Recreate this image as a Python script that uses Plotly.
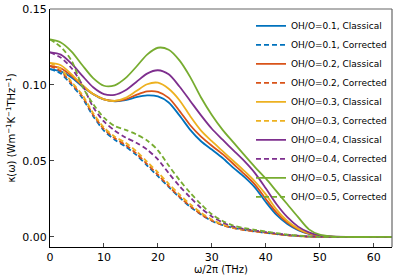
import plotly.graph_objects as go

freq = [0, 2, 4, 6, 8, 10, 12, 14, 16, 18, 20, 22, 24, 26, 28, 30, 32, 34, 36, 38,
        40, 42, 44, 46, 48, 50, 52, 55, 60, 63.5]

cl_01 = [0.1105, 0.109, 0.105, 0.099, 0.094, 0.0905, 0.0893, 0.0900, 0.0920, 0.0932,
         0.0925, 0.0885, 0.0800, 0.0705, 0.0630, 0.0575, 0.0520, 0.0455, 0.0395, 0.0325,
         0.0230, 0.0145, 0.0085, 0.0045, 0.0020, 0.0007, 0.0002, 0.0, 0.0, 0.0]
co_01 = [0.1105, 0.1075, 0.100, 0.0915, 0.0795, 0.0700, 0.0640, 0.0595, 0.0540, 0.0470,
         0.0400, 0.0330, 0.0260, 0.0198, 0.0148, 0.0105, 0.0078, 0.0060, 0.0046, 0.0036,
         0.0027, 0.0019, 0.0011, 0.0006, 0.0002, 0.0001, 0.0, 0.0, 0.0, 0.0]
cl_02 = [0.1125, 0.111, 0.106, 0.0995, 0.094, 0.0905, 0.0895, 0.0905, 0.0935, 0.0958,
         0.0955, 0.0915, 0.0830, 0.0735, 0.0660, 0.0600, 0.0545, 0.0480, 0.0415, 0.0345,
         0.0250, 0.0160, 0.0095, 0.0050, 0.0022, 0.0008, 0.0002, 0.0, 0.0, 0.0]
co_02 = [0.1125, 0.109, 0.101, 0.0925, 0.0805, 0.0710, 0.0650, 0.0605, 0.0550, 0.0480,
         0.0410, 0.0335, 0.0265, 0.0203, 0.0150, 0.0108, 0.0078, 0.0058, 0.0045, 0.0036,
         0.0027, 0.0019, 0.0011, 0.0006, 0.0002, 0.0001, 0.0, 0.0, 0.0, 0.0]
cl_03 = [0.1145, 0.113, 0.107, 0.100, 0.094, 0.0905, 0.0895, 0.0915, 0.0960, 0.1005,
         0.1015, 0.0975, 0.0900, 0.0795, 0.0700, 0.0630, 0.0565, 0.0500, 0.0435, 0.0365,
         0.0280, 0.0180, 0.0105, 0.0055, 0.0025, 0.0009, 0.0002, 0.0, 0.0, 0.0]
co_03 = [0.1145, 0.1105, 0.102, 0.0935, 0.0815, 0.0720, 0.0660, 0.0620, 0.0565, 0.0495,
         0.0425, 0.0350, 0.0280, 0.0215, 0.0160, 0.0115, 0.0083, 0.0062, 0.0048, 0.0038,
         0.0029, 0.0020, 0.0012, 0.0006, 0.0003, 0.0001, 0.0, 0.0, 0.0, 0.0]
cl_04 = [0.1215, 0.120, 0.114, 0.106, 0.0985, 0.0940, 0.0935, 0.0965, 0.1020, 0.1075,
         0.1097, 0.1070, 0.0990, 0.0895, 0.0800, 0.0712, 0.0640, 0.0570, 0.0500, 0.0420,
         0.0320, 0.0215, 0.0130, 0.0068, 0.0030, 0.0010, 0.0003, 0.0, 0.0, 0.0]
co_04 = [0.1215, 0.118, 0.111, 0.100, 0.0855, 0.0760, 0.0700, 0.0655, 0.0620, 0.0575,
         0.0510, 0.0420, 0.0335, 0.0260, 0.0190, 0.0135, 0.0095, 0.0068, 0.0052, 0.0042,
         0.0032, 0.0022, 0.0014, 0.0008, 0.0003, 0.0001, 0.0, 0.0, 0.0, 0.0]
cl_05 = [0.1300, 0.128, 0.122, 0.113, 0.1045, 0.0995, 0.0998, 0.1045, 0.1120, 0.1200,
         0.1245, 0.1232, 0.1162, 0.1052, 0.0918, 0.0803, 0.0705, 0.0622, 0.0540, 0.0460,
         0.0385, 0.0300, 0.0215, 0.0130, 0.0050, 0.0015, 0.0004, 0.0, 0.0, 0.0]
co_05 = [0.1300, 0.125, 0.116, 0.099, 0.0875, 0.0785, 0.0730, 0.0705, 0.0675, 0.0635,
         0.0570, 0.0470, 0.0375, 0.0290, 0.0215, 0.0150, 0.0105, 0.0075, 0.0058, 0.0047,
         0.0036, 0.0025, 0.0016, 0.0009, 0.0004, 0.0001, 0.0, 0.0, 0.0, 0.0]

ratios = ["0.1", "0.2", "0.3", "0.4", "0.5"]
classical = [cl_01, cl_02, cl_03, cl_04, cl_05]
corrected = [co_01, co_02, co_03, co_04, co_05]
colors = ["#0072BD", "#D95319", "#EDB120", "#7E2F8E", "#77AC30"]

fig = go.Figure()
for r, cl, co, c in zip(ratios, classical, corrected, colors):
    fig.add_trace(go.Scatter(x=freq, y=cl, mode="lines", name=f"OH/O={r}, Classical",
                             line=dict(color=c, width=1.8, shape="spline", smoothing=0.8)))
    fig.add_trace(go.Scatter(x=freq, y=co, mode="lines", name=f"OH/O={r}, Corrected",
                             line=dict(color=c, width=1.8, dash="5px,3px",
                                       shape="spline", smoothing=0.8)))

font = "DejaVu Sans, Liberation Sans, sans-serif"
fig.update_layout(
    width=396, height=280,
    margin=dict(l=50, r=4, t=9, b=33),
    paper_bgcolor="white", plot_bgcolor="white",
    font=dict(family=font, size=11, color="black"),
    showlegend=True,
    legend=dict(x=1.0, y=0.99, xanchor="right", yanchor="top",
                bgcolor="rgba(255,255,255,0)", borderwidth=0,
                font=dict(size=9), itemwidth=30, tracegroupgap=0),
    shapes=[
        dict(type="line", xref="paper", yref="paper", x0=0, x1=1, y0=1, y1=1,
             line=dict(color="#666666", width=1.2)),
        dict(type="line", xref="paper", yref="paper", x0=1, x1=1, y0=0, y1=1,
             line=dict(color="#666666", width=1.2)),
    ],
)
fig.update_xaxes(range=[0, 63.4], tickvals=[0, 10, 20, 30, 40, 50, 60],
                 showgrid=False, zeroline=False, showline=True, linecolor="black",
                 linewidth=1.2, ticks="inside", ticklen=4, tickcolor="#444",
                 tickfont=dict(size=11),
                 title=dict(text="ω/2π (THz)", font=dict(size=10), standoff=2))
fig.update_yaxes(range=[-0.0066, 0.15], tickvals=[0, 0.05, 0.10, 0.15], tickformat=".2f",
                 showgrid=False, zeroline=False, showline=True, linecolor="black",
                 linewidth=1.2, ticks="inside", ticklen=4, tickcolor="#444",
                 tickfont=dict(size=11),
                 title=dict(text="κ(ω) (Wm<sup>−1</sup>K<sup>−1</sup>THz<sup>−1</sup>)",
                            font=dict(size=10), standoff=4))

fig.write_html("out.html", config={"displayModeBar": False},
               post_script="document.body.style.margin='0';")
